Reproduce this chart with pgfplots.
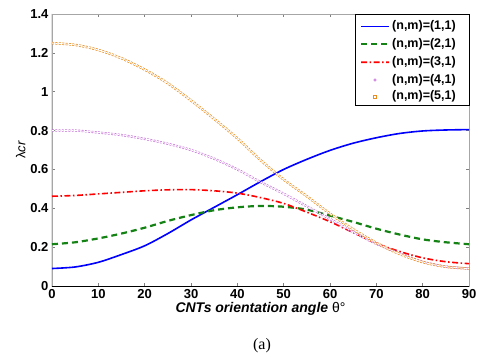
\documentclass[border=0pt]{standalone}
\usepackage{fontspec}
\setmainfont{Liberation Sans}
\newfontfamily\serifa{Liberation Serif}
\usepackage{pgfplots}
\usepackage{pgfplotstable}
\pgfplotsset{compat=1.18}
\definecolor{ocol}{RGB}{235,140,30}
\definecolor{mcol}{RGB}{195,100,215}
\definecolor{gcol}{RGB}{20,130,20}
\definecolor{bcol}{RGB}{0,0,255}
\pgfplotstableread{
x b g r m o
0 0.09 0.215 0.462 0.80 1.25
5 0.098 0.225 0.466 0.80 1.241
10 0.122 0.245 0.474 0.79 1.215
15 0.162 0.27 0.482 0.777 1.172
20 0.207 0.30 0.49 0.757 1.114
25 0.27 0.335 0.495 0.732 1.043
30 0.34 0.365 0.496 0.70 0.955
35 0.405 0.39 0.49 0.655 0.86
40 0.47 0.405 0.478 0.60 0.76
45 0.537 0.412 0.455 0.535 0.648
50 0.60 0.408 0.425 0.475 0.548
55 0.652 0.393 0.38 0.41 0.462
60 0.698 0.362 0.331 0.345 0.372
65 0.735 0.33 0.275 0.278 0.292
70 0.763 0.295 0.22 0.217 0.222
75 0.785 0.265 0.178 0.17 0.165
80 0.798 0.24 0.145 0.125 0.123
85 0.803 0.225 0.125 0.10 0.099
90 0.805 0.215 0.115 0.09 0.09
}\data
\begin{document}
\begin{tikzpicture}
\path[use as bounding box] (-52pt,-70pt) rectangle (426pt,286pt);
\begin{axis}[
  scale only axis, width=417pt, height=272pt,
  xmin=0, xmax=90, ymin=0, ymax=1.4,
  xtick={0,10,...,90}, ytick={0,0.2,...,1.4},
  tick align=inside, major tick length=3.5pt,
  axis line style={gray!70, line width=0.8pt},
  tick style={gray, line width=0.6pt},
  /pgf/number format/assume math mode=true,
  ticklabel style={font=\fontsize{13}{15}\selectfont\bfseries},
  xlabel={\fontsize{14}{16}\selectfont\bfseries\itshape CNTs orientation angle \mdseries\upshape θ°},
  ylabel={\fontsize{13}{15}\selectfont λ\textit{cr}},
  xlabel style={yshift=3pt},
  ylabel style={yshift=-2pt},
]
\addplot[draw=bcol, line width=1.6pt, smooth] table[x=x,y=b] {\data};
\addplot[gcol, line width=2.2pt, dash pattern=on 6pt off 4pt, smooth] table[x=x,y=g] {\data};
\addplot[red, line width=1.6pt, dash pattern=on 6pt off 2.5pt on 1.5pt off 2.5pt, smooth] table[x=x,y=r] {\data};
\addplot[mcol, line width=0.6pt, double=white, double distance=1pt, dash pattern=on 1.8pt off 1.5pt, smooth] table[x=x,y=m] {\data};
\addplot[ocol, line width=0.7pt, double=white, double distance=1pt, dash pattern=on 2pt off 1.4pt, smooth] table[x=x,y=o] {\data};
\draw[black, line width=1pt] (rel axis cs:0,1) -- (rel axis cs:0,0) -- (rel axis cs:1,0);
\end{axis}
% legend drawn by hand
\draw[fill=white, draw=black, line width=0.8pt] (303pt,181pt) rectangle (417pt,272pt);
\fill[bcol] (309pt,258.5pt) rectangle (337pt,260.1pt);
\draw[gcol, line width=2.2pt, dash pattern=on 6pt off 4pt] (309pt,241.7pt) -- (337pt,241.7pt);
\fill[red] (309pt,222.9pt) rectangle (315pt,224.5pt)
  (317.5pt,222.9pt) rectangle (319pt,224.5pt)
  (321.5pt,222.9pt) rectangle (327.5pt,224.5pt)
  (330pt,222.9pt) rectangle (331.5pt,224.5pt)
  (334pt,222.9pt) rectangle (337pt,224.5pt);
\draw[mcol, line width=0.6pt] (323pt,206pt) circle (1.2pt);
\draw[ocol, line width=0.6pt] (321.7pt,188pt) rectangle (324.3pt,190.6pt);
\begin{scope}[every node/.style={anchor=west, inner sep=0pt, font=\fontsize{12.5}{14}\selectfont\bfseries}]
\node at (340pt,259.3pt) {(n,m)=(1,1)};
\node at (340pt,241.7pt) {(n,m)=(2,1)};
\node at (340pt,223.7pt) {(n,m)=(3,1)};
\node at (340pt,206pt) {(n,m)=(4,1)};
\node at (340pt,189.3pt) {(n,m)=(5,1)};
\end{scope}
\node[font=\serifa\fontsize{16}{18}\selectfont] at (210pt,-60pt) {(a)};
\end{tikzpicture}
\end{document}
